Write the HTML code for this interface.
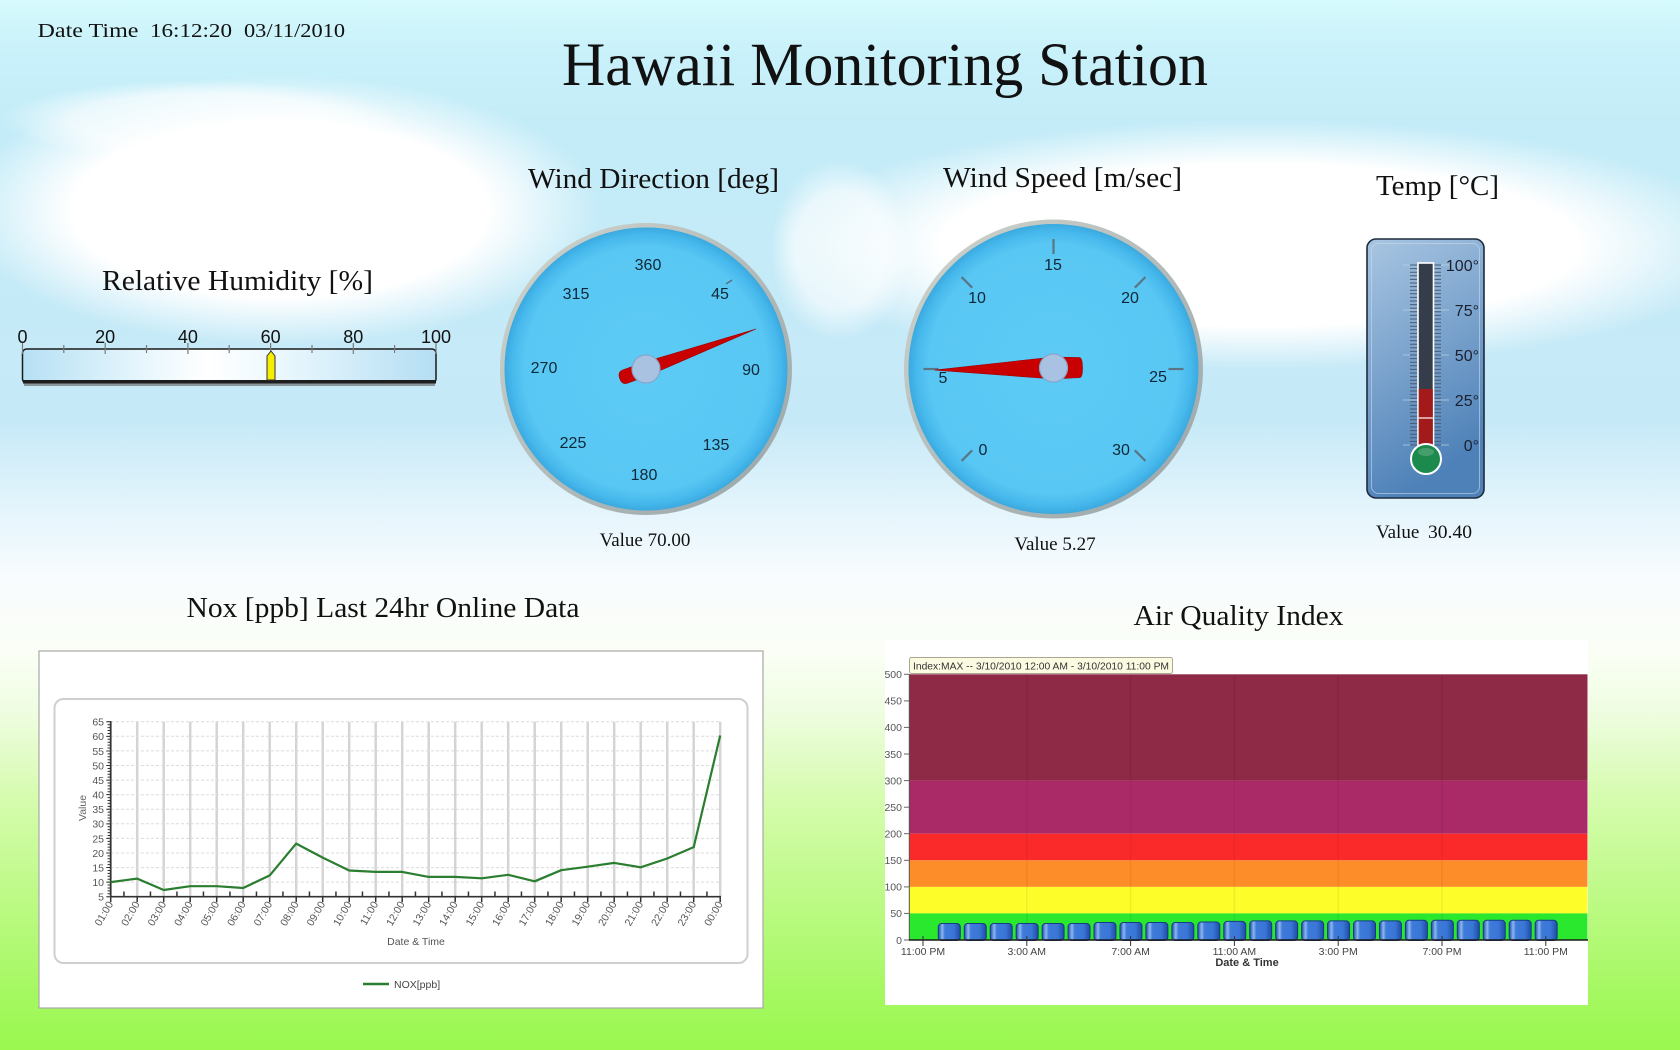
<!DOCTYPE html>
<html>
<head>
<meta charset="utf-8">
<style>
html,body{margin:0;padding:0;width:1680px;height:1050px;overflow:hidden;background:#c8ecf8;}
svg{display:block;}
.serif{font-family:"Liberation Serif","Times New Roman",serif;fill:#111;}
.sans{font-family:"Liberation Sans",Arial,sans-serif;}
</style>
</head>
<body>
<svg width="1680" height="1050" viewBox="0 0 1680 1050" xmlns="http://www.w3.org/2000/svg">
<defs>
  <linearGradient id="bg" x1="0" y1="0" x2="0" y2="1">
    <stop offset="0" stop-color="#d6fafd"/>
    <stop offset="0.05" stop-color="#c9f1fa"/>
    <stop offset="0.12" stop-color="#c4ecf8"/>
    <stop offset="0.40" stop-color="#c6e9f7"/>
    <stop offset="0.48" stop-color="#e2f4fc"/>
    <stop offset="0.55" stop-color="#f8fcfe"/>
    <stop offset="0.62" stop-color="#fbfef6"/>
    <stop offset="0.68" stop-color="#eefde0"/>
    <stop offset="0.76" stop-color="#d6fcae"/>
    <stop offset="0.86" stop-color="#bcfa84"/>
    <stop offset="0.95" stop-color="#a4f860"/>
    <stop offset="1" stop-color="#9af84e"/>
  </linearGradient>
  <radialGradient id="cloud" cx="0.5" cy="0.5" r="0.5">
    <stop offset="0" stop-color="#ffffff" stop-opacity="1"/>
    <stop offset="0.65" stop-color="#ffffff" stop-opacity="1"/>
    <stop offset="1" stop-color="#ffffff" stop-opacity="0"/>
  </radialGradient>
  <radialGradient id="face" cx="0.5" cy="0.5" r="0.5">
    <stop offset="0" stop-color="#5ccbf5"/>
    <stop offset="0.86" stop-color="#59c7f3"/>
    <stop offset="0.95" stop-color="#46b8ec"/>
    <stop offset="1" stop-color="#3aa9df"/>
  </radialGradient>
  <linearGradient id="rim" x1="0" y1="0" x2="1" y2="1">
    <stop offset="0" stop-color="#d0d4cc"/>
    <stop offset="1" stop-color="#98a4a8"/>
  </linearGradient>
  <linearGradient id="hbar" x1="0" y1="0" x2="1" y2="0">
    <stop offset="0" stop-color="#b6e0f4"/>
    <stop offset="0.3" stop-color="#e8f7fd"/>
    <stop offset="0.45" stop-color="#ffffff"/>
    <stop offset="0.6" stop-color="#eef9fe"/>
    <stop offset="1" stop-color="#b4def3"/>
  </linearGradient>
  <linearGradient id="thermo" x1="0" y1="0" x2="0.3" y2="1">
    <stop offset="0" stop-color="#a9c6e2"/>
    <stop offset="1" stop-color="#4e81b8"/>
  </linearGradient>
  <linearGradient id="barg" x1="0" y1="0" x2="1" y2="0">
    <stop offset="0" stop-color="#1c4ba6"/>
    <stop offset="0.18" stop-color="#8cb6f0"/>
    <stop offset="0.3" stop-color="#3e7ad8"/>
    <stop offset="0.7" stop-color="#3a76d6"/>
    <stop offset="1" stop-color="#1e4ca6"/>
  </linearGradient>
</defs>

<!-- background -->
<rect x="0" y="0" width="1680" height="1050" fill="url(#bg)"/>
<ellipse cx="280" cy="210" rx="320" ry="135" fill="url(#cloud)"/>
<ellipse cx="1260" cy="245" rx="490" ry="125" fill="url(#cloud)"/>
<ellipse cx="840" cy="250" rx="70" ry="90" fill="url(#cloud)" opacity="0.6"/>
<ellipse cx="200" cy="120" rx="200" ry="40" fill="url(#cloud)" opacity="0.6"/>

<!-- header -->
<text class="serif" x="37.5" y="37" font-size="20" textLength="101" lengthAdjust="spacingAndGlyphs">Date Time</text>
<text class="serif" x="150" y="37" font-size="20" textLength="82" lengthAdjust="spacingAndGlyphs">16:12:20</text>
<text class="serif" x="244" y="37" font-size="20" textLength="101" lengthAdjust="spacingAndGlyphs">03/11/2010</text>
<text class="serif" x="562" y="85" font-size="61" textLength="646" lengthAdjust="spacingAndGlyphs">Hawaii Monitoring Station</text>

<!-- Relative humidity -->
<text class="serif" x="102" y="290" font-size="29" textLength="271" lengthAdjust="spacingAndGlyphs">Relative Humidity [%]</text>
<g class="sans" font-size="18" fill="#111" text-anchor="middle">
  <text x="22.5" y="343">0</text>
  <text x="105.2" y="343">20</text>
  <text x="187.9" y="343">40</text>
  <text x="270.6" y="343">60</text>
  <text x="353.3" y="343">80</text>
  <text x="436" y="343">100</text>
</g>
<rect x="22.5" y="349" width="413.5" height="34" rx="4" fill="url(#hbar)" stroke="#1a1a1a" stroke-width="1.5"/>
<rect x="23" y="380" width="413" height="3.5" fill="#1e1e1e"/>
<rect x="24" y="383.5" width="411" height="2.5" fill="#8a979c"/>
<g stroke="#7a7a7a" stroke-width="1.2">
  <line x1="22.5" y1="343" x2="22.5" y2="354"/>
  <line x1="105.2" y1="343" x2="105.2" y2="354"/>
  <line x1="187.9" y1="343" x2="187.9" y2="354"/>
  <line x1="270.6" y1="343" x2="270.6" y2="354"/>
  <line x1="353.3" y1="343" x2="353.3" y2="354"/>
  <line x1="436" y1="343" x2="436" y2="354"/>
  <line x1="63.8" y1="345" x2="63.8" y2="353"/>
  <line x1="146.5" y1="345" x2="146.5" y2="353"/>
  <line x1="229.2" y1="345" x2="229.2" y2="353"/>
  <line x1="312" y1="345" x2="312" y2="353"/>
  <line x1="394.6" y1="345" x2="394.6" y2="353"/>
</g>
<path d="M267 380 L267 356 L271 351 L275 356 L275 380 Z" fill="#f6ee00" stroke="#333" stroke-width="1"/>

<!-- Wind direction gauge -->
<text class="serif" x="528" y="188" font-size="29" textLength="251" lengthAdjust="spacingAndGlyphs">Wind Direction [deg]</text>
<circle cx="646" cy="369" r="146" fill="url(#rim)"/>
<circle cx="646" cy="369" r="141.5" fill="url(#face)"/>
<line x1="726" y1="284" x2="732" y2="280" stroke="#5a7080" stroke-width="1.5"/>
<g class="sans" font-size="16" fill="#0e2838" text-anchor="middle">
  <text x="648" y="270">360</text>
  <text x="720" y="299">45</text>
  <text x="751" y="375">90</text>
  <text x="716" y="450">135</text>
  <text x="644" y="480">180</text>
  <text x="573" y="448">225</text>
  <text x="544" y="373">270</text>
  <text x="576" y="299">315</text>
</g>
<path d="M-7 0 L0 -117 L7 0 L7 22 Q7 28 0 28 Q-7 28 -7 22 Z" fill="#c80000" stroke="#9a0000" stroke-width="0.6" transform="translate(646 369) rotate(70)"/>
<circle cx="646" cy="369" r="14" fill="#a9c2e2" stroke="#86a6cc" stroke-width="1.2"/>
<text class="serif" x="645" y="546" font-size="19" text-anchor="middle">Value 70.00</text>

<!-- Wind speed gauge -->
<text class="serif" x="943" y="187" font-size="29" textLength="239" lengthAdjust="spacingAndGlyphs">Wind Speed [m/sec]</text>
<circle cx="1053.5" cy="369" r="149.5" fill="url(#rim)"/>
<circle cx="1053.5" cy="369" r="145" fill="url(#face)"/>
<g stroke="#5a7585" stroke-width="2.2" transform="translate(1053.5 369)">
  <line x1="0" y1="-115" x2="0" y2="-130" transform="rotate(-135)"/>
  <line x1="0" y1="-115" x2="0" y2="-130" transform="rotate(-90)"/>
  <line x1="0" y1="-115" x2="0" y2="-130" transform="rotate(-45)"/>
  <line x1="0" y1="-115" x2="0" y2="-130" transform="rotate(0)"/>
  <line x1="0" y1="-115" x2="0" y2="-130" transform="rotate(45)"/>
  <line x1="0" y1="-115" x2="0" y2="-130" transform="rotate(90)"/>
  <line x1="0" y1="-115" x2="0" y2="-130" transform="rotate(135)"/>
</g>
<g class="sans" font-size="16" fill="#0e2838" text-anchor="middle">
  <text x="1053" y="270">15</text>
  <text x="977" y="303">10</text>
  <text x="1130" y="303">20</text>
  <text x="943" y="383">5</text>
  <text x="1158" y="382">25</text>
  <text x="983" y="455">0</text>
  <text x="1121" y="455">30</text>
</g>
<path d="M-11 0 L0 -119 L11 0 L10 26 Q10 29 0 29 Q-10 29 -10 26 Z" fill="#c80000" stroke="#9a0000" stroke-width="0.6" transform="translate(1053.5 368) rotate(-91)"/>
<circle cx="1053.5" cy="368" r="14" fill="#a9c2e2" stroke="#86a6cc" stroke-width="1.2"/>
<text class="serif" x="1055" y="550" font-size="19" text-anchor="middle">Value 5.27</text>

<!-- Temperature -->
<text class="serif" x="1376" y="195" font-size="29" textLength="123" lengthAdjust="spacingAndGlyphs">Temp [°C]</text>
<rect x="1367" y="239" width="117" height="259" rx="9" fill="url(#thermo)" stroke="#1f2b3c" stroke-width="1.6"/>
<rect x="1371.5" y="243.5" width="108" height="250" rx="7" fill="none" stroke="#c8daec" stroke-width="1" opacity="0.6"/>
<g stroke="#c4d4e4" stroke-width="1" opacity="0.7">
  <line x1="1403" y1="445" x2="1449" y2="445"/>
  <line x1="1403" y1="400" x2="1449" y2="400"/>
  <line x1="1403" y1="355" x2="1449" y2="355"/>
  <line x1="1403" y1="310" x2="1449" y2="310"/>
  <line x1="1403" y1="265" x2="1449" y2="265"/>
</g>
<line x1="1413.5" y1="264.5" x2="1413.5" y2="446" stroke="#4a5a70" stroke-width="7" stroke-dasharray="1 2.6"/>
<line x1="1437.5" y1="264.5" x2="1437.5" y2="446" stroke="#4a5a70" stroke-width="7" stroke-dasharray="1 2.6"/>
<rect x="1418" y="263" width="15.5" height="184" fill="#363d4a" stroke="#ffffff" stroke-width="1.6"/>
<rect x="1418.8" y="389" width="14" height="57" fill="#a21a1a"/>
<line x1="1418.8" y1="418" x2="1432.8" y2="418" stroke="#ffffff" stroke-width="1.2"/>
<circle cx="1426" cy="459" r="15" fill="#1b8a4c" stroke="#ffffff" stroke-width="2"/>
<ellipse cx="1426" cy="452" rx="8" ry="4" fill="#ffffff" opacity="0.18"/>
<g class="sans" font-size="16" fill="#1a2030" text-anchor="end">
  <text x="1479" y="271">100°</text>
  <text x="1479" y="316">75°</text>
  <text x="1479" y="361">50°</text>
  <text x="1479" y="406">25°</text>
  <text x="1479" y="451">0°</text>
</g>
<text class="serif" x="1376" y="538" font-size="19">Value</text>
<text class="serif" x="1428" y="538" font-size="19" textLength="44" lengthAdjust="spacingAndGlyphs">30.40</text>

<!-- NOX chart -->
<text class="serif" x="186.5" y="617" font-size="29" textLength="393" lengthAdjust="spacingAndGlyphs">Nox [ppb] Last 24hr Online Data</text>
<rect x="39" y="651" width="724" height="357" fill="#ffffff" stroke="#a8a8a8" stroke-width="1.2"/>
<rect x="54.5" y="699" width="693" height="264" rx="9" fill="#ffffff" stroke="#cfcfcf" stroke-width="2"/>
<line x1="109.45" y1="809.2" x2="722" y2="809.2" stroke="#d4d4d4" stroke-width="175" stroke-dasharray="2.5 24"/>
<g stroke="#dcdcdc" stroke-width="1" stroke-dasharray="3 2">
  <line x1="111" y1="882.1" x2="720" y2="882.1"/>
  <line x1="111" y1="867.6" x2="720" y2="867.6"/>
  <line x1="111" y1="853.0" x2="720" y2="853.0"/>
  <line x1="111" y1="838.4" x2="720" y2="838.4"/>
  <line x1="111" y1="823.8" x2="720" y2="823.8"/>
  <line x1="111" y1="809.2" x2="720" y2="809.2"/>
  <line x1="111" y1="794.7" x2="720" y2="794.7"/>
  <line x1="111" y1="780.1" x2="720" y2="780.1"/>
  <line x1="111" y1="765.5" x2="720" y2="765.5"/>
  <line x1="111" y1="750.9" x2="720" y2="750.9"/>
  <line x1="111" y1="736.3" x2="720" y2="736.3"/>
  <line x1="111" y1="721.8" x2="720" y2="721.8"/>
</g>
<line x1="110.7" y1="721" x2="110.7" y2="897.5" stroke="#333" stroke-width="1.6"/>
<line x1="110" y1="896.7" x2="721" y2="896.7" stroke="#333" stroke-width="1.6"/>
<line x1="108.8" y1="721.3" x2="108.8" y2="897.2" stroke="#333" stroke-width="2.5" stroke-dasharray="1 1.915"/>
<line x1="107.5" y1="721.3" x2="107.5" y2="897.2" stroke="#333" stroke-width="2.5" stroke-dasharray="1 13.575"/>
<line x1="109.95" y1="899.7" x2="722" y2="899.7" stroke="#333" stroke-width="5" stroke-dasharray="1.5 25"/>
<line x1="123.2" y1="894" x2="710" y2="894" stroke="#333" stroke-width="5" stroke-dasharray="1.5 25"/>
<g class="sans" font-size="10.5" fill="#555" text-anchor="end">
  <text x="104" y="900.5">5</text>
  <text x="104" y="886">10</text>
  <text x="104" y="871.5">15</text>
  <text x="104" y="857">20</text>
  <text x="104" y="842.3">25</text>
  <text x="104" y="827.7">30</text>
  <text x="104" y="813.1">35</text>
  <text x="104" y="798.6">40</text>
  <text x="104" y="784">45</text>
  <text x="104" y="769.4">50</text>
  <text x="104" y="754.8">55</text>
  <text x="104" y="740.2">60</text>
  <text x="104" y="725.7">65</text>
</g>
<text class="sans" font-size="10.5" fill="#666" text-anchor="middle" transform="translate(86 808) rotate(-90)">Value</text>
<g class="sans" font-size="10.5" fill="#555" text-anchor="end">
  <text transform="translate(113.5 904) rotate(-60)">01:00</text>
  <text transform="translate(140 904) rotate(-60)">02:00</text>
  <text transform="translate(166.5 904) rotate(-60)">03:00</text>
  <text transform="translate(193 904) rotate(-60)">04:00</text>
  <text transform="translate(219.5 904) rotate(-60)">05:00</text>
  <text transform="translate(246 904) rotate(-60)">06:00</text>
  <text transform="translate(272.5 904) rotate(-60)">07:00</text>
  <text transform="translate(299 904) rotate(-60)">08:00</text>
  <text transform="translate(325.5 904) rotate(-60)">09:00</text>
  <text transform="translate(352 904) rotate(-60)">10:00</text>
  <text transform="translate(378.5 904) rotate(-60)">11:00</text>
  <text transform="translate(405 904) rotate(-60)">12:00</text>
  <text transform="translate(431.5 904) rotate(-60)">13:00</text>
  <text transform="translate(458 904) rotate(-60)">14:00</text>
  <text transform="translate(484.5 904) rotate(-60)">15:00</text>
  <text transform="translate(511 904) rotate(-60)">16:00</text>
  <text transform="translate(537.5 904) rotate(-60)">17:00</text>
  <text transform="translate(564 904) rotate(-60)">18:00</text>
  <text transform="translate(590.5 904) rotate(-60)">19:00</text>
  <text transform="translate(617 904) rotate(-60)">20:00</text>
  <text transform="translate(643.5 904) rotate(-60)">21:00</text>
  <text transform="translate(670 904) rotate(-60)">22:00</text>
  <text transform="translate(696.5 904) rotate(-60)">23:00</text>
  <text transform="translate(723 904) rotate(-60)">00:00</text>
</g>
<text class="sans" x="416" y="945" font-size="10.5" fill="#555" text-anchor="middle">Date &amp; Time</text>
<polyline fill="none" stroke="#2b7d30" stroke-width="2.2" stroke-linejoin="round" points="110.7,882.1 137.2,878.6 163.7,890.0 190.2,886.2 216.7,886.2 243.2,888.0 269.7,875.4 296.2,843.6 322.7,857.6 349.2,870.5 375.7,871.9 402.2,871.9 428.7,876.9 455.2,876.9 481.7,878.3 508.2,874.8 534.7,881.3 561.2,870.2 587.7,866.7 614.2,862.9 640.7,867.3 667.2,858.5 693.7,847.1 720.2,735.5"/>
<line x1="363" y1="984" x2="389" y2="984" stroke="#2b7d30" stroke-width="2.5"/>
<text class="sans" x="394" y="988" font-size="10.5" fill="#444">NOX[ppb]</text>

<!-- AQI chart -->
<text class="serif" x="1133.5" y="625" font-size="29" textLength="210" lengthAdjust="spacingAndGlyphs">Air Quality Index</text>
<rect x="885" y="640" width="703" height="365" fill="#ffffff"/>
<rect x="909.3" y="674.3" width="678.2" height="106.3" fill="#8e2946"/>
<rect x="909.3" y="780.6" width="678.2" height="53.1" fill="#a92a67"/>
<rect x="909.3" y="833.7" width="678.2" height="26.6" fill="#fb2a2a"/>
<rect x="909.3" y="860.3" width="678.2" height="26.6" fill="#fd8d29"/>
<rect x="909.3" y="886.9" width="678.2" height="26.5" fill="#fdfd2a"/>
<rect x="909.3" y="913.4" width="678.2" height="26.6" fill="#2ae82e"/>
<g stroke="#000" stroke-opacity="0.06" stroke-width="1.5">
  <line x1="1026.8" y1="675" x2="1026.8" y2="940"/>
  <line x1="1130.6" y1="675" x2="1130.6" y2="940"/>
  <line x1="1234.4" y1="675" x2="1234.4" y2="940"/>
  <line x1="1338.2" y1="675" x2="1338.2" y2="940"/>
  <line x1="1442" y1="675" x2="1442" y2="940"/>
</g>
<g fill="url(#barg)" stroke="#163c82" stroke-width="1">
  <rect x="938.3" y="923.5" width="22" height="17" rx="3.5"/>
  <rect x="964.25" y="923.5" width="22" height="17" rx="3.5"/>
  <rect x="990.2" y="923.5" width="22" height="17" rx="3.5"/>
  <rect x="1016.15" y="923.5" width="22" height="17" rx="3.5"/>
  <rect x="1042.1" y="923.5" width="22" height="17" rx="3.5"/>
  <rect x="1068.05" y="923.5" width="22" height="17" rx="3.5"/>
  <rect x="1094" y="922.5" width="22" height="18" rx="3.5"/>
  <rect x="1119.95" y="922.5" width="22" height="18" rx="3.5"/>
  <rect x="1145.9" y="922.5" width="22" height="18" rx="3.5"/>
  <rect x="1171.85" y="922.5" width="22" height="18" rx="3.5"/>
  <rect x="1197.8" y="922" width="22" height="18.5" rx="3.5"/>
  <rect x="1223.75" y="921.4" width="22" height="19.1" rx="3.5"/>
  <rect x="1249.7" y="920.9" width="22" height="19.6" rx="3.5"/>
  <rect x="1275.65" y="920.9" width="22" height="19.6" rx="3.5"/>
  <rect x="1301.6" y="920.9" width="22" height="19.6" rx="3.5"/>
  <rect x="1327.55" y="920.9" width="22" height="19.6" rx="3.5"/>
  <rect x="1353.5" y="920.9" width="22" height="19.6" rx="3.5"/>
  <rect x="1379.45" y="920.9" width="22" height="19.6" rx="3.5"/>
  <rect x="1405.4" y="920.3" width="22" height="20.2" rx="3.5"/>
  <rect x="1431.35" y="920.3" width="22" height="20.2" rx="3.5"/>
  <rect x="1457.3" y="920.3" width="22" height="20.2" rx="3.5"/>
  <rect x="1483.25" y="920.3" width="22" height="20.2" rx="3.5"/>
  <rect x="1509.2" y="920.3" width="22" height="20.2" rx="3.5"/>
  <rect x="1535.15" y="920.3" width="22" height="20.2" rx="3.5"/>
</g>
<line x1="909.3" y1="674" x2="909.3" y2="940.5" stroke="#555" stroke-width="1"/>
<line x1="909" y1="940" x2="1588" y2="940" stroke="#1a1a1a" stroke-width="1.6"/>
<g stroke="#666" stroke-width="1">
  <line x1="904" y1="940" x2="909" y2="940"/>
  <line x1="904" y1="913.4" x2="909" y2="913.4"/>
  <line x1="904" y1="886.9" x2="909" y2="886.9"/>
  <line x1="904" y1="860.3" x2="909" y2="860.3"/>
  <line x1="904" y1="833.7" x2="909" y2="833.7"/>
  <line x1="904" y1="807.2" x2="909" y2="807.2"/>
  <line x1="904" y1="780.6" x2="909" y2="780.6"/>
  <line x1="904" y1="754" x2="909" y2="754"/>
  <line x1="904" y1="727.4" x2="909" y2="727.4"/>
  <line x1="904" y1="700.9" x2="909" y2="700.9"/>
  <line x1="904" y1="674.3" x2="909" y2="674.3"/>
</g>
<g class="sans" font-size="10.5" fill="#555" text-anchor="end">
  <text x="902" y="943.8">0</text>
  <text x="902" y="917.2">50</text>
  <text x="902" y="890.7">100</text>
  <text x="902" y="864.1">150</text>
  <text x="902" y="837.5">200</text>
  <text x="902" y="811">250</text>
  <text x="902" y="784.4">300</text>
  <text x="902" y="757.8">350</text>
  <text x="902" y="731.2">400</text>
  <text x="902" y="704.7">450</text>
  <text x="902" y="678.1">500</text>
</g>
<g stroke="#333" stroke-width="1">
  <line x1="923" y1="936" x2="923" y2="946"/>
  <line x1="1026.8" y1="936" x2="1026.8" y2="946"/>
  <line x1="1130.6" y1="936" x2="1130.6" y2="946"/>
  <line x1="1234.4" y1="936" x2="1234.4" y2="946"/>
  <line x1="1338.2" y1="936" x2="1338.2" y2="946"/>
  <line x1="1442" y1="936" x2="1442" y2="946"/>
  <line x1="1545.8" y1="936" x2="1545.8" y2="946"/>
</g>
<g class="sans" font-size="10.5" fill="#444" text-anchor="middle">
  <text x="923" y="955">11:00 PM</text>
  <text x="1026.8" y="955">3:00 AM</text>
  <text x="1130.6" y="955">7:00 AM</text>
  <text x="1234.4" y="955">11:00 AM</text>
  <text x="1338.2" y="955">3:00 PM</text>
  <text x="1442" y="955">7:00 PM</text>
  <text x="1545.8" y="955">11:00 PM</text>
</g>
<text class="sans" x="1247" y="966" font-size="11" font-weight="bold" fill="#333" text-anchor="middle">Date &amp; Time</text>
<rect x="909.5" y="657.5" width="263" height="16" rx="2" fill="#fbfbe2" stroke="#a8a890" stroke-width="1"/>
<text class="sans" x="913" y="669.5" font-size="10.3" fill="#333" textLength="256" lengthAdjust="spacingAndGlyphs">Index:MAX -- 3/10/2010 12:00 AM  -  3/10/2010 11:00 PM</text>
</svg>
</body>
</html>
